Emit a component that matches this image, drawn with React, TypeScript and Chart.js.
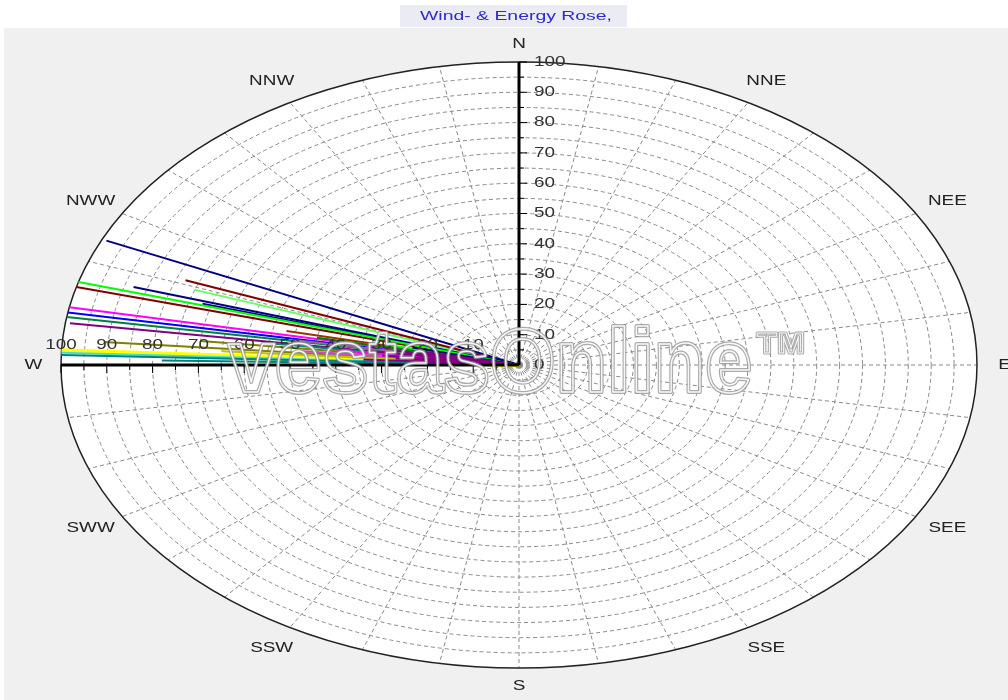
import React, { useEffect, useRef } from "react";
import { Chart, registerables } from "chart.js";

Chart.register(...registerables);

const TITLE = "Wind- & Energy Rose,";
const WATERMARK = "vestasOnline";

const compassLabels = ["N", "NNE", "NEE", "E", "SEE", "SSE", "S", "SSW", "SWW", "W", "NWW", "NNW"];
const compassBearings = [0, 30, 60, 90, 120, 150, 180, 210, 240, 270, 300, 330];
const radialTicks = [0, 10, 20, 30, 40, 50, 60, 70, 80, 90, 100];

// Each line: a direction (compass bearing, degrees) and a value (0..100)
const lineBearings = [
  282, 280, 278, 276, 274.5, 273, 279, 277, 275.5, 284, 283, 281.5, 276.5, 274, 277.5, 279.5, 275, 282.5,
  294.5, 285.9, 284.9, 287, 286.3, 291, 289.3, 281, 280, 279.1, 278, 274.8, 271.1, 271.9, 272.3, 272.8, 272.2,
];
const lineValues = [
  22, 28, 33, 30, 27, 34, 25, 40, 48, 24, 30, 45, 70, 65, 55, 50, 42, 52,
  99, 100, 100, 88, 72, 78, 75, 100, 100, 100, 99, 91, 78, 100, 100, 100, 62,
];
const lineColors = [
  "#800080", "#800080", "#800080", "#800080", "#800080", "#800080", "#800080", "#ff00ff", "#cc44cc",
  "#000080", "#00ff00", "#008000", "#808000", "#c0c000", "#008080", "#996699", "#808080", "#993300",
  "#000080", "#00ff00", "#800000", "#000080", "#000080", "#800000", "#66ff66", "#ff00ff", "#0000ff",
  "#008040", "#800080", "#808000", "#008080", "#008080", "#40e0d0", "#ffff00", "#ffff00",
];

const FONT = "'Liberation Sans', Arial, sans-serif";
const SX = 1.35;

function drawText(
  ctx: CanvasRenderingContext2D,
  text: string,
  x: number,
  y: number,
  font: string,
  color: string,
  align: CanvasTextAlign,
  baseline: CanvasTextBaseline,
  sx: number
) {
  ctx.save();
  ctx.translate(x, y);
  ctx.scale(sx, 1);
  ctx.font = font;
  ctx.fillStyle = color;
  ctx.textAlign = align;
  ctx.textBaseline = baseline;
  ctx.fillText(text, 0, 0);
  ctx.restore();
}

function geom(chart: any) {
  const xs = chart.scales.x;
  const ys = chart.scales.y;
  const cx = xs.getPixelForValue(0);
  const cy = ys.getPixelForValue(0);
  const rx = xs.getPixelForValue(100) - cx;
  const ry = cy - ys.getPixelForValue(100);
  return { cx, cy, rx, ry, xs, ys };
}

const rosePlugin = {
  id: "rosePlugin",
  beforeDraw(chart: any) {
    const { ctx, width, height } = chart;
    const { cx, cy, rx, ry } = geom(chart);
    ctx.save();
    ctx.fillStyle = "#ffffff";
    ctx.fillRect(0, 0, width, height);
    ctx.fillStyle = "#f0f0f0";
    ctx.fillRect(4, 28, width - 4, height - 28);

    // title
    ctx.font = "13px " + FONT;
    const tw = ctx.measureText(TITLE).width;
    const tsx = 192 / tw;
    ctx.fillStyle = "#ebebf3";
    ctx.fillRect(cx - 119, 5, 227, 22);
    drawText(ctx, TITLE, cx - 3, 16, "13px " + FONT, "#2b2bd0", "center", "middle", tsx);

    // plot ellipse
    ctx.beginPath();
    ctx.ellipse(cx, cy, rx, ry, 0, 0, Math.PI * 2);
    ctx.fillStyle = "#ffffff";
    ctx.fill();

    // dashed rings
    ctx.strokeStyle = "#8a8a8a";
    ctx.lineWidth = 1;
    ctx.setLineDash([4, 3]);
    for (let v = 5; v < 100; v += 5) {
      ctx.beginPath();
      ctx.ellipse(cx, cy, (rx * v) / 100, (ry * v) / 100, 0, 0, Math.PI * 2);
      ctx.stroke();
    }
    // spokes every 10 degrees
    for (let b = 0; b < 360; b += 10) {
      const a = (b * Math.PI) / 180;
      ctx.beginPath();
      ctx.moveTo(cx, cy);
      ctx.lineTo(cx + rx * Math.sin(a), cy - ry * Math.cos(a));
      ctx.stroke();
    }
    ctx.setLineDash([]);
    // outer ring
    ctx.beginPath();
    ctx.ellipse(cx, cy, rx, ry, 0, 0, Math.PI * 2);
    ctx.strokeStyle = "#222222";
    ctx.lineWidth = 1.5;
    ctx.stroke();

    // compass labels
    compassLabels.forEach((lab, i) => {
      const a = (compassBearings[i] * Math.PI) / 180;
      const r = compassBearings[i] % 90 === 0 ? 1.06 : 1.08;
      drawText(ctx, lab, cx + rx * r * Math.sin(a), cy - ry * r * Math.cos(a), "14px " + FONT, "#222222", "center", "middle", SX);
    });
    ctx.restore();
  },
  afterDatasetsDraw(chart: any) {
    const { ctx } = chart;
    const { cx, cy, xs, ys } = geom(chart);
    ctx.save();
    ctx.strokeStyle = "#000000";
    // N axis
    ctx.lineWidth = 3;
    ctx.beginPath();
    ctx.moveTo(cx, cy);
    ctx.lineTo(cx, ys.getPixelForValue(100));
    ctx.stroke();
    // W axis
    ctx.beginPath();
    ctx.moveTo(cx, cy);
    ctx.lineTo(xs.getPixelForValue(-100), cy);
    ctx.stroke();
    // ticks
    ctx.lineWidth = 1;
    for (let v = 5; v <= 100; v += 5) {
      const len = v % 10 === 0 ? 8 : 5;
      const py = ys.getPixelForValue(v);
      ctx.beginPath();
      ctx.moveTo(cx, py);
      ctx.lineTo(cx + len, py);
      ctx.stroke();
      const px = xs.getPixelForValue(-v);
      ctx.beginPath();
      ctx.moveTo(px, cy);
      ctx.lineTo(px, cy + len);
      ctx.stroke();
    }
    // tick labels
    radialTicks.forEach((v) => {
      drawText(ctx, String(v), cx + 15, ys.getPixelForValue(v), "14px " + FONT, "#333333", "left", "middle", SX);
      if (v > 0) {
        drawText(ctx, String(v), xs.getPixelForValue(-v), cy - 13, "14px " + FONT, "#333333", "center", "bottom", SX);
      }
    });
    ctx.restore();
  },
  afterDraw(chart: any) {
    const { ctx } = chart;
    const { cx, cy } = geom(chart);
    ctx.save();
    ctx.font = "bold 90px " + FONT;
    const w = ctx.measureText(WATERMARK).width;
    const sx = 524 / w;
    ctx.translate(cx - 291, cy + 27);
    ctx.scale(sx, 1);
    ctx.textAlign = "left";
    ctx.textBaseline = "alphabetic";
    ctx.lineJoin = "round";
    ctx.strokeStyle = "rgba(150,150,150,0.8)";
    ctx.lineWidth = 4;
    ctx.strokeText(WATERMARK, 0, 0);
    ctx.strokeStyle = "rgba(255,255,255,0.9)";
    ctx.lineWidth = 1.5;
    ctx.strokeText(WATERMARK, 0, 0);
    ctx.restore();

    ctx.save();
    ctx.font = "bold 30px " + FONT;
    ctx.translate(cx + 238, cy - 12);
    ctx.scale(1.1, 1);
    ctx.lineJoin = "round";
    ctx.strokeStyle = "rgba(150,150,150,0.8)";
    ctx.lineWidth = 3;
    ctx.strokeText("TM", 0, 0);
    ctx.strokeStyle = "rgba(255,255,255,0.9)";
    ctx.lineWidth = 1;
    ctx.strokeText("TM", 0, 0);
    ctx.restore();
  },
};

export default function App() {
  const ref = useRef<HTMLCanvasElement | null>(null);
  useEffect(() => {
    document.body.style.margin = "0";
    const canvas = ref.current;
    if (!canvas) return;
    const datasets = lineBearings.map((b, i) => {
      const a = (b * Math.PI) / 180;
      const r = lineValues[i];
      const color = lineColors[i];
      return {
        label: "S" + (i + 1),
        data: [
          { x: 0, y: 0 },
          { x: r * Math.sin(a), y: r * Math.cos(a) },
        ],
        showLine: true,
        borderColor: color,
        backgroundColor: color,
        borderWidth: color === "#ffff00" ? 4 : 2,
        pointRadius: 0,
        fill: false,
      };
    });
    const chart = new Chart(canvas, {
      type: "scatter",
      data: { datasets },
      options: {
        responsive: false,
        animation: false,
        devicePixelRatio: 1,
        layout: { padding: { left: 61, right: 31, top: 62, bottom: 32 } },
        scales: {
          x: { type: "linear", min: -100, max: 100, display: false },
          y: { type: "linear", min: -100, max: 100, display: false },
        },
        plugins: {
          legend: { display: false },
          tooltip: { enabled: false },
          title: { display: false },
        },
      },
      plugins: [rosePlugin],
    } as any);
    return () => chart.destroy();
  }, []);
  return (
    <div style={{ width: 1008, height: 700 }}>
      <canvas ref={ref} width={1008} height={700} style={{ display: "block" }} />
    </div>
  );
}
